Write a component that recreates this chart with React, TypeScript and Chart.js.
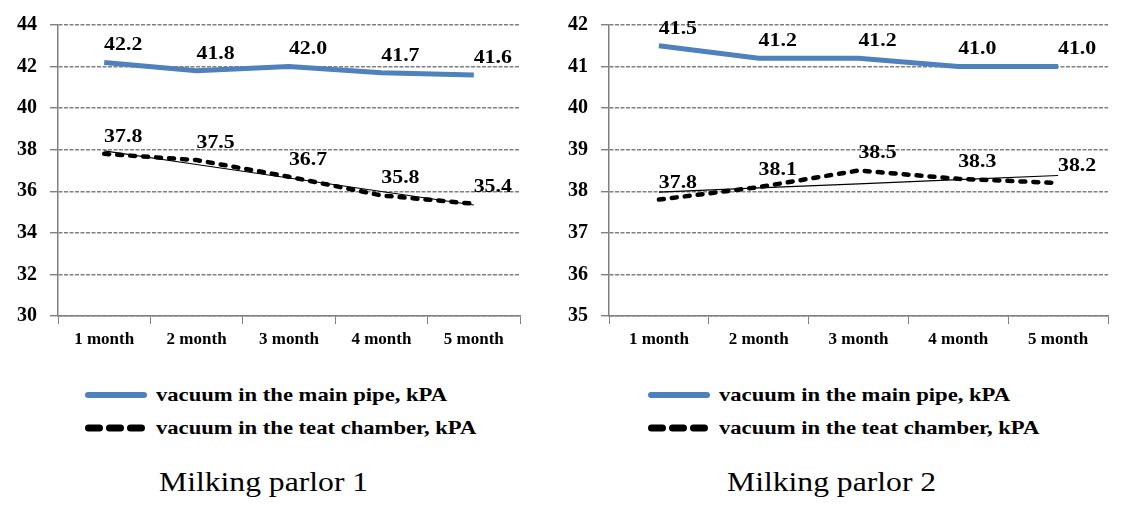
import { useEffect, useRef } from 'react';
import { Chart, registerables } from 'chart.js';

Chart.register(...registerables);

const months = ['1 month', '2 month', '3 month', '4 month', '5 month'];

const mainPipe1 = [42.2, 41.8, 42.0, 41.7, 41.6];
const teatChamber1 = [37.8, 37.5, 36.7, 35.8, 35.4];

const mainPipe2 = [41.5, 41.2, 41.2, 41.0, 41.0];
const teatChamber2 = [37.8, 38.1, 38.5, 38.3, 38.2];

const legendMain = 'vacuum in the main pipe, kPA';
const legendTeat = 'vacuum in the teat chamber, kPA';

const SERIF = '"Liberation Serif", "Times New Roman", serif';
const BLUE = '#4F81BD';
const GRID = '#808080';

// least squares line through the series, like Excel's linear trendline
function linearTrend(values: number[]) {
  const n = values.length;
  const xs = values.map((_, i) => i + 1);
  const mx = xs.reduce((a, b) => a + b, 0) / n;
  const my = values.reduce((a, b) => a + b, 0) / n;
  let num = 0;
  let den = 0;
  xs.forEach((x, i) => {
    num += (x - mx) * (values[i] - my);
    den += (x - mx) * (x - mx);
  });
  const slope = num / den;
  return xs.map((x) => my + slope * (x - mx));
}

const valueLabels = {
  id: 'valueLabels',
  afterDatasetsDraw(chart: any) {
    const ctx = chart.ctx;
    ctx.save();
    ctx.font = `bold 19px ${SERIF}`;
    ctx.fillStyle = '#000';
    ctx.textAlign = 'center';
    ctx.textBaseline = 'middle';
    chart.data.datasets.forEach((ds: any, i: number) => {
      if (!ds.showValues) return;
      const meta = chart.getDatasetMeta(i);
      meta.data.forEach((pt: any, j: number) => {
        ctx.save();
        ctx.translate(pt.x + 19, pt.y - 17);
        ctx.scale(1.15, 1);
        ctx.fillText(Number(ds.data[j]).toFixed(1), 0, 0);
        ctx.restore();
      });
    });
    ctx.restore();
  },
};

interface PanelProps {
  main: number[];
  teat: number[];
  min: number;
  max: number;
  step: number;
  left: number;
  width: number;
  axisWidth: number;
  padRight: number;
  legendLeft: number;
  captionLeft: number;
  caption: string;
}

const CANVAS_H = 352;
const PLOT_BOTTOM = 316;

const Panel: React.FC<PanelProps> = (p) => {
  const canvasRef = useRef<HTMLCanvasElement | null>(null);
  const chartRef = useRef<Chart | null>(null);

  useEffect(() => {
    if (!canvasRef.current) return;
    if (chartRef.current) chartRef.current.destroy();
    const ctx = canvasRef.current.getContext('2d');
    if (!ctx) return;

    chartRef.current = new Chart(ctx, {
      type: 'line',
      data: {
        labels: months,
        datasets: [
          {
            label: legendMain,
            data: p.main,
            borderColor: BLUE,
            borderWidth: 5,
            pointRadius: 0,
            tension: 0,
            order: 1,
            showValues: true,
          } as any,
          {
            label: legendTeat,
            data: p.teat,
            borderColor: '#000',
            borderWidth: 4.5,
            borderDash: [5, 8],
            borderCapStyle: 'round',
            pointRadius: 0,
            tension: 0,
            order: 2,
            showValues: true,
          } as any,
          {
            label: 'trend',
            data: linearTrend(p.teat),
            borderColor: '#000',
            borderWidth: 1.2,
            pointRadius: 0,
            order: 0,
          },
        ],
      },
      options: {
        responsive: false,
        animation: false,
        layout: { padding: { top: 22, right: p.padRight, left: 0, bottom: 0 } },
        plugins: {
          legend: { display: false },
          tooltip: { enabled: false },
        },
        scales: {
          x: {
            offset: true,
            afterFit: (scale: any) => {
              scale.height = CANVAS_H - PLOT_BOTTOM;
            },
            grid: {
              offset: true,
              drawOnChartArea: false,
              drawTicks: true,
              tickLength: 8,
              color: GRID,
            },
            border: { color: GRID, width: 1.5 },
            ticks: {
              color: '#000',
              padding: 5,
              maxRotation: 0,
              font: { family: SERIF, size: 17, weight: 'bold' },
            },
          },
          y: {
            min: p.min,
            max: p.max,
            afterFit: (scale: any) => {
              scale.width = p.axisWidth;
            },
            grid: {
              color: GRID,
              lineWidth: 1.4,
              tickLength: 8,
              tickColor: GRID,
            },
            border: { color: GRID, width: 1.5, dash: [4, 1.5] },
            ticks: {
              stepSize: p.step,
              color: '#000',
              padding: 13,
              font: { family: SERIF, size: 20, weight: 'bold' },
            },
          },
        },
      },
      plugins: [valueLabels],
    } as any);

    return () => {
      if (chartRef.current) {
        chartRef.current.destroy();
        chartRef.current = null;
      }
    };
  }, [p.main, p.teat, p.min, p.max, p.step, p.axisWidth, p.padRight]);

  const textStyle: React.CSSProperties = {
    position: 'absolute',
    fontFamily: SERIF,
    fontWeight: 'bold',
    fontSize: 19,
    lineHeight: '20px',
    whiteSpace: 'nowrap',
    transform: 'scaleX(1.19)',
    transformOrigin: 'left center',
    color: '#000',
  };

  return (
    <div style={{ position: 'absolute', left: p.left, top: 0, width: p.width, height: 508 }}>
      <canvas ref={canvasRef} width={p.width} height={CANVAS_H} style={{ display: 'block' }} />

      <svg
        style={{ position: 'absolute', left: p.legendLeft, top: 390 }}
        width={62}
        height={10}
      >
        <line x1={3} y1={5} x2={59} y2={5} stroke={BLUE} strokeWidth={6} strokeLinecap="round" />
      </svg>
      <div style={{ ...textStyle, left: p.legendLeft + 71, top: 385 }}>{legendMain}</div>

      <svg
        style={{ position: 'absolute', left: p.legendLeft, top: 423 }}
        width={62}
        height={10}
      >
        <line
          x1={3.5}
          y1={5}
          x2={57}
          y2={5}
          stroke="#000"
          strokeWidth={7}
          strokeLinecap="round"
          strokeDasharray="11 10"
        />
      </svg>
      <div style={{ ...textStyle, left: p.legendLeft + 71, top: 418 }}>{legendTeat}</div>

      <div
        style={{
          position: 'absolute',
          left: p.captionLeft,
          top: 466,
          fontFamily: SERIF,
          fontSize: 28,
          lineHeight: '32px',
          whiteSpace: 'nowrap',
          transform: 'scaleX(1.13)',
          transformOrigin: 'left center',
          color: '#000',
        }}
      >
        {p.caption}
      </div>
    </div>
  );
};

export default function App() {
  return (
    <div
      style={{
        position: 'absolute',
        left: 0,
        top: 0,
        width: 1129,
        height: 508,
        background: '#fff',
        overflow: 'hidden',
      }}
    >
      <Panel
        main={mainPipe1}
        teat={teatChamber1}
        min={30}
        max={44}
        step={2}
        left={0}
        width={560}
        axisWidth={58}
        padRight={40}
        legendLeft={85}
        captionLeft={159}
        caption="Milking parlor 1"
      />
      <Panel
        main={mainPipe2}
        teat={teatChamber2}
        min={35}
        max={42}
        step={1}
        left={560}
        width={569}
        axisWidth={49}
        padRight={21}
        legendLeft={88}
        captionLeft={167}
        caption="Milking parlor 2"
      />
    </div>
  );
}
